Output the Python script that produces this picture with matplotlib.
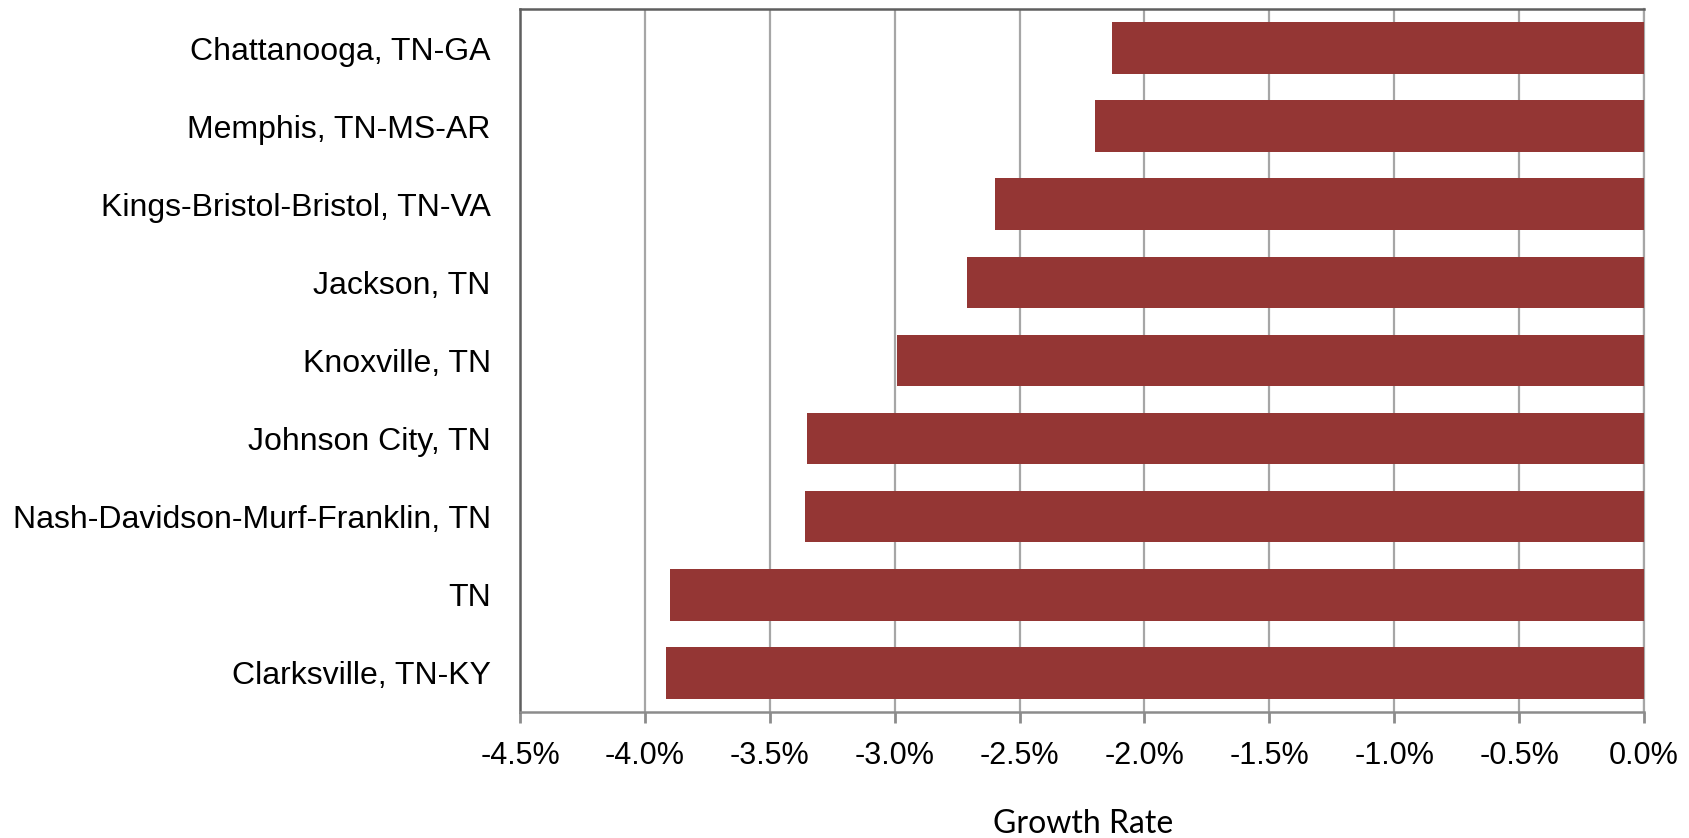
import numpy as np
import matplotlib
matplotlib.use("Agg")
import matplotlib.pyplot as plt
from matplotlib.ticker import FuncFormatter

# data, top to bottom as shown in the chart
areas = [
    "Chattanooga, TN-GA",
    "Memphis, TN-MS-AR",
    "Kings-Bristol-Bristol, TN-VA",
    "Jackson, TN",
    "Knoxville, TN",
    "Johnson City, TN",
    "Nash-Davidson-Murf-Franklin, TN",
    "TN",
    "Clarksville, TN-KY",
]
growth = [-2.13, -2.20, -2.60, -2.71, -2.99, -3.35, -3.36, -3.90, -3.915]
xticks = [-4.5, -4.0, -3.5, -3.0, -2.5, -2.0, -1.5, -1.0, -0.5, 0.0]

plt.rcParams['font.family'] = ['Liberation Sans', 'DejaVu Sans']

fig = plt.figure(figsize=(16.9, 8.38), dpi=100)
ax = fig.add_axes([0.3077, 0.1504, 0.9728 - 0.3077, 0.9893 - 0.1504])

y = np.arange(len(areas))[::-1]
ax.barh(y, growth, height=0.66, color='#943634', zorder=3)

ax.set_xlim(-4.5, 0.0)
ax.set_ylim(-0.5, len(areas) - 0.5)
ax.set_xticks(xticks)
ax.xaxis.set_major_formatter(FuncFormatter(lambda v, p: f"{v:.1f}%"))
ax.set_yticks(y)
ax.set_yticklabels(areas, fontsize=23)

for t in xticks:
    ax.axvline(t, color='#a6a6a6', lw=1.6, zorder=1)

ax.tick_params(axis='x', direction='out', length=8, width=2, color='#8c8c8c',
               labelsize=22, pad=13)
ax.tick_params(axis='y', length=0, pad=21)

for side in ['top', 'left']:
    ax.spines[side].set_color('#5f5f5f')
    ax.spines[side].set_linewidth(1.8)
ax.spines['bottom'].set_color('#8c8c8c')
ax.spines['bottom'].set_linewidth(1.8)
ax.spines['right'].set_color('#a6a6a6')
ax.spines['right'].set_linewidth(1.6)

fig.text(0.641, 0.006, "Growth Rate", ha='center', va='baseline',
         fontsize=23, family=['Lato', 'DejaVu Sans'])

fig.savefig("out.png", dpi=100)
